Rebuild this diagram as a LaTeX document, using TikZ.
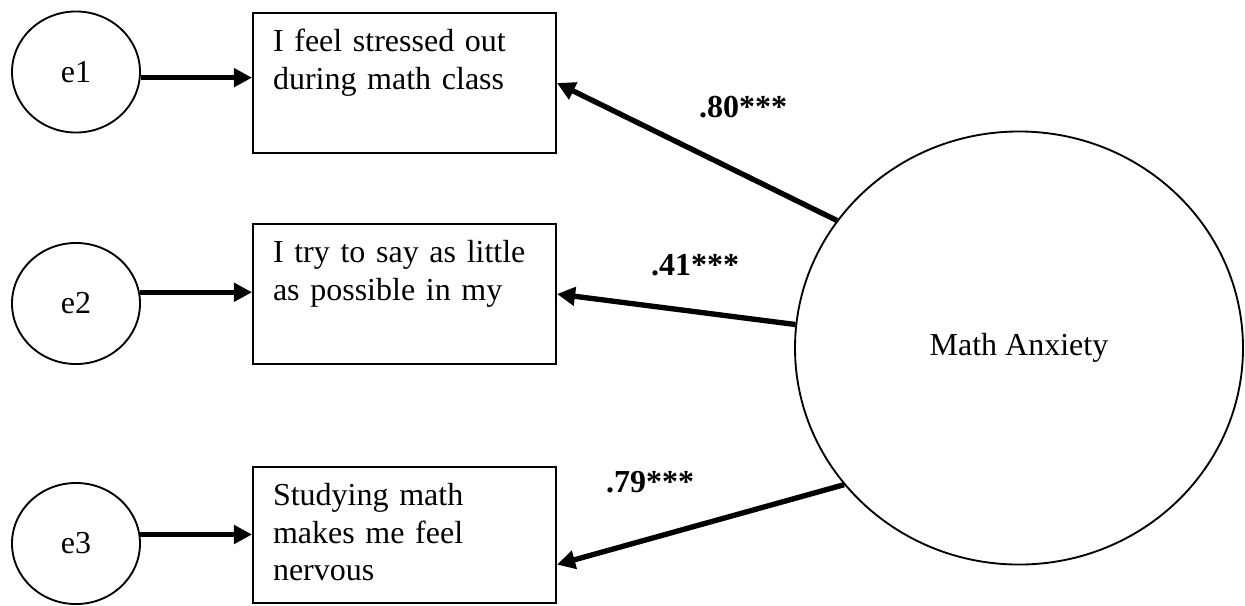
\documentclass[tikz,border=0pt]{standalone}
\usepackage{fontspec}
\setmainfont{Liberation Serif}
\usepackage{tikz}
\usetikzlibrary{shapes,arrows.meta,positioning,calc}

\begin{document}
\begin{tikzpicture}[
    x=0.375pt, y=-0.375pt,
    font=\fontsize{12pt}{13.9pt}\selectfont,
    errterm/.style={draw, ellipse, line width=0.7pt, minimum width=48pt, minimum height=45.4pt, inner sep=0pt},
    latent/.style={draw, ellipse, line width=0.7pt, minimum width=168pt, minimum height=162.4pt, inner sep=0pt},
    indicator/.style={draw, rectangle, line width=0.75pt, inner xsep=7.5pt, inner ysep=6pt, text width=98.6pt, align=left, text height=8.6pt, text depth=31.9pt},
    effect/.style={line width=2pt, -{Triangle[length=6.8pt, width=6.8pt]}},
    loading/.style={font=\fontsize{12pt}{14pt}\selectfont\bfseries},
]
    \useasboundingbox (0,0) rectangle (1245,605);
    % Error terms
    \foreach \i/\y in {1/72, 2/303.5, 3/543.5} {
        \node[errterm] (e\i) at (76,\y) {e\i};
    }
    % Observed items
    \node[indicator] (b1) at (404.5,83) {I feel stressed out\\during math class};
    \node[indicator] (b2) at (404.5,294) {I try to say as little\\as possible in my};
    \node[indicator, text depth=30.4pt] (b3) at (404.5,535) {Studying math\\makes me feel\\nervous};
    % Latent factor
    \node[latent] (ma) at (1019,348) {Math Anxiety};
    % Error paths
    \foreach \i/\a in {1/-5, 2/10, 3/8} {
        \draw[effect] (e\i.\a) -- (e\i.\a -| b\i.west);
    }
    % Loadings
    \draw[effect] (ma.145) -- (b1.east);
    \draw[effect] (ma.174) -- (b2.east);
    \draw[effect] (ma.218) -- (b3.-11);
    \node[loading] (l1) at (743,107) {.80***};
    \node[loading] (l2) at (695,265) {.41***};
    \node[loading] (l3) at (650,482) {.79***};
\end{tikzpicture}
\end{document}
